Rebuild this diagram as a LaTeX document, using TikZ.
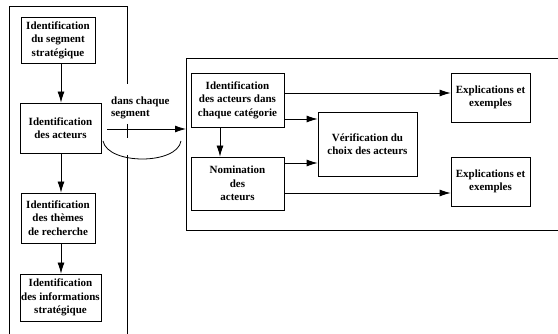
\documentclass[tikz,border=0pt]{standalone}
\usepackage{fontspec}
\setmainfont{Liberation Serif}
\usetikzlibrary{arrows.meta}
\tikzset{
  box/.style={draw=black, line width=0.8pt, inner sep=0pt, align=center,
    font=\bfseries\fontsize{11}{13.5}\selectfont},
  frame/.style={draw=black, line width=0.8pt},
  arr/.style={draw=black, line width=0.8pt, -{Latex[length=11pt,width=7pt]}},
  lbl/.style={inner sep=0pt, align=left, font=\bfseries\fontsize{11}{12}\selectfont}
}
\begin{document}
\begin{tikzpicture}[x=1pt,y=-1pt]
\useasboundingbox (0,0) rectangle (558,334);

% left frame (open at the bottom, right side broken around the link)
\draw[frame] (9,334) -- (9,6) -- (127,6) -- (127,84);
\draw[frame] (127,124) -- (127,138);
\draw[frame] (127,155) -- (127,334);

% right frame (open on the right)
\draw[frame] (558,58) -- (186,58) -- (186,230) -- (558,230);

% left column
\node[box, minimum width=74pt, minimum height=46pt] (b1) at (58,40)
  {Identification\\du segment\\stratégique};
\node[box, minimum width=81pt, minimum height=50pt] (b2) at (60.5,128)
  {Identification\\des acteurs};
\node[box, minimum width=74pt, minimum height=50pt] (b3) at (58,218)
  {Identification\\des thèmes\\de recherche};
\node[box, minimum width=81pt, minimum height=47pt] (b4) at (60.5,297.5)
  {Identification\\des informations\\stratégique};

\coordinate (col) at (61,0);
\draw[arr] (b1.south -| col) -- (b2.north -| col);
\draw[arr] (b2.south -| col) -- (b3.north -| col);
\draw[arr] (b3.south -| col) -- (b4.north -| col);

% link into the right frame
\coordinate (rin) at (186,129);
\node[lbl, anchor=north west] (seg) at (111,97) {dans chaque\\segment};
\draw[arr] ([xshift=6pt]b2.east |- rin) -- (rin);
\coordinate (cs) at (103,141);
\coordinate (ce) at (181,141);
\draw[frame] (cs) .. controls (108,165) and (177,165) .. (ce);

% right part
\node[box, minimum width=93pt, minimum height=54pt] (A) at (237.5,100)
  {Identification\\des acteurs dans\\chaque catégorie};
\node[box, minimum width=93pt, minimum height=53pt] (N) at (237.5,183.5)
  {Nomination\\des\\acteurs};
\node[box, minimum width=99pt, minimum height=64pt] (V) at (367.5,144)
  {Vérification du\\choix des acteurs};
\node[box, minimum width=79pt, minimum height=49pt] (E1) at (490.5,97.5)
  {Explications et\\exemples};
\node[box, minimum width=79pt, minimum height=49pt] (E2) at (490.5,181.5)
  {Explications et\\exemples};

\draw[arr] ([yshift=7pt]A.east) -- ([yshift=7pt]A.east -| E1.west);
\draw[arr] ([yshift=-19pt]A.east) -- ([yshift=-19pt]A.east -| V.west);
\draw[arr] ([xshift=-17.5pt]A.south) -- ([xshift=-17.5pt]A.south |- N.north);
\draw[arr] ([yshift=20.5pt]N.east) -- ([yshift=20.5pt]N.east -| V.west);
\draw[arr] ([yshift=-9.5pt]N.east) -- ([yshift=-9.5pt]N.east -| E2.west);
\end{tikzpicture}
\end{document}
